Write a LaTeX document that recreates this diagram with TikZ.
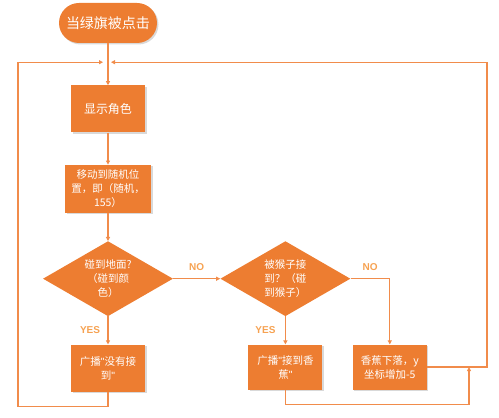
\documentclass[tikz,border=0pt]{standalone}
\usepackage{fontspec}
\setmainfont{Noto Sans CJK SC}
\newfontfamily\latinfont{Liberation Sans}
\usetikzlibrary{
  arrows.meta,
  positioning,
  shapes.geometric,
  shadows
}
\definecolor{carrot}{RGB}{237,125,49}
\definecolor{flowline}{RGB}{241,140,75}
\definecolor{tagorange}{RGB}{246,162,82}
\newcommand{\qt}{{\latinfont"}}

\begin{document}
\begin{tikzpicture}[
  x=1pt, y=1pt,
  node distance=28pt,
  box/.style={
    fill=carrot,
    text=white,
    align=center,
    font=\fontsize{10.5}{14}\selectfont,
    minimum width=74pt,
    minimum height=47pt,
    inner sep=2pt,
    drop shadow={shadow xshift=1.5pt, shadow yshift=-1.5pt, opacity=0.3}
  },
  decide/.style={
    diamond,
    aspect=1.7,
    fill=carrot,
    text=white,
    align=center,
    font=\fontsize{10.5}{14}\selectfont,
    minimum width=130pt,
    minimum height=75pt,
    inner sep=0pt
  },
  flow/.style={-{Triangle[length=4pt,width=4pt]}, line width=1.2pt, draw=flowline},
  tag/.style={font=\latinfont\bfseries\fontsize{10}{11}\selectfont, text=tagorange}
]
\useasboundingbox (0,0) rectangle (499,418);

\node[box, minimum width=98pt, minimum height=40pt, rounded corners=20pt, font=\fontsize{14}{16}\selectfont] (start) at (108,395) {当绿旗被点击};
\node[box, font=\fontsize{12}{14}\selectfont, below=42pt of start] (show) {显示角色};
\node[box, minimum width=86pt, minimum height=48pt, below=32pt of show] (move) {移动到随机位\\置，即（随机，\\155）};
\node[decide, below=of move] (ground) {碰到地面?\\（碰到颜\\色）};
\node[box, below=of ground] (lost) {广播\qt 没有接\\到\qt};
\node[decide, right=47pt of ground] (monkey) {被猴子接\\到？（碰\\到猴子）};
\node[box, minimum height=45pt, below=of monkey] (caught) {广播\qt 接到香\\蕉\qt};
\node[box, minimum height=45pt, right=30pt of caught] (fall) {香蕉下落，y\\坐标增加-5};

% loop corners
\coordinate (merge) at ([yshift=-19pt]start.south);
\coordinate (loopL) at ([xshift=-90pt]merge);
\coordinate (loopR) at ([xshift=379pt]merge);
\coordinate (join) at ([xshift=42pt]fall.east);

\draw[flow] (start) -- (show);
\draw[flow] (show) -- (move);
\draw[flow] (move) -- (ground);
\draw[flow] (ground) -- (lost) node[tag, midway, left=4pt] {YES};
\draw[flow] (ground) -- (monkey) node[tag, midway, above=4pt] {NO};
\draw[flow] (monkey) -- (caught) node[tag, midway, left=6pt] {YES};
\draw[flow] (monkey.east) -| (fall.north) node[tag, pos=0.25, above=4pt] {NO};
\draw[flow, shorten >=5pt] (lost.south) -- ++(0,-15) -| (loopL) -- (merge);
\draw[flow, shorten >=3pt] (fall.east) -| (loopR) -- (merge);
\draw[flow] (caught.south) -- ++(0,-15) -| (join);

\end{tikzpicture}
\end{document}
